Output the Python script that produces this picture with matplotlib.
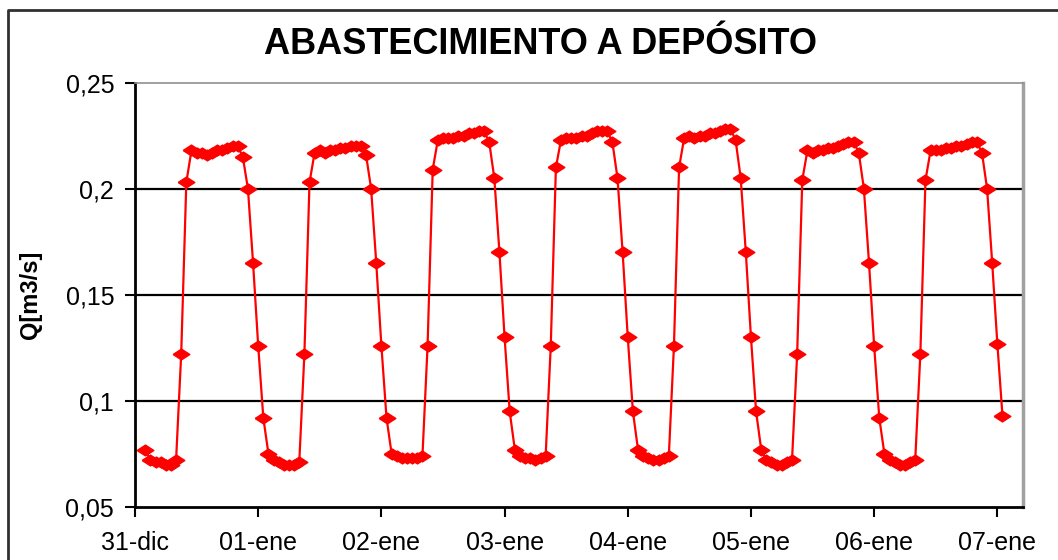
import numpy as np
import matplotlib
matplotlib.use('Agg')
import matplotlib.pyplot as plt
from matplotlib.lines import Line2D

plt.rcParams['font.family'] = ['Liberation Sans', 'DejaVu Sans']

# caudal horario (m3/s), de las 02:00 de cada dia a la 01:00 del dia siguiente
q_31dic = [0.077, 0.072, 0.071, 0.071, 0.070, 0.070, 0.072,
           0.122, 0.203,
           0.218, 0.217, 0.217, 0.216, 0.217, 0.218, 0.218, 0.219, 0.220, 0.220,
           0.215, 0.200, 0.165, 0.126, 0.092]
q_01ene = [0.075, 0.072, 0.071, 0.070, 0.070, 0.070, 0.071,
           0.122, 0.203,
           0.217, 0.218, 0.217, 0.218, 0.218, 0.219, 0.219, 0.220, 0.220, 0.220,
           0.216, 0.200, 0.165, 0.126, 0.092]
q_02ene = [0.075, 0.074, 0.073, 0.073, 0.073, 0.073, 0.074,
           0.126, 0.209,
           0.223, 0.224, 0.224, 0.224, 0.225, 0.225, 0.226, 0.226, 0.227, 0.227,
           0.222, 0.205, 0.170, 0.130, 0.095]
q_03ene = [0.077, 0.074, 0.073, 0.073, 0.072, 0.073, 0.074,
           0.126, 0.210,
           0.223, 0.224, 0.224, 0.224, 0.225, 0.225, 0.226, 0.227, 0.227, 0.227,
           0.222, 0.205, 0.170, 0.130, 0.095]
q_04ene = [0.077, 0.074, 0.073, 0.072, 0.072, 0.073, 0.074,
           0.126, 0.210,
           0.224, 0.225, 0.224, 0.225, 0.225, 0.226, 0.226, 0.227, 0.228, 0.228,
           0.223, 0.205, 0.170, 0.130, 0.095]
q_05ene = [0.077, 0.072, 0.071, 0.070, 0.070, 0.071, 0.072,
           0.122, 0.204,
           0.218, 0.217, 0.218, 0.218, 0.219, 0.219, 0.220, 0.221, 0.222, 0.222,
           0.217, 0.200, 0.165, 0.126, 0.092]
q_06ene = [0.075, 0.072, 0.071, 0.070, 0.070, 0.071, 0.072,
           0.122, 0.204,
           0.218, 0.218, 0.218, 0.219, 0.219, 0.220, 0.220, 0.221, 0.222, 0.222,
           0.217, 0.200, 0.165, 0.127, 0.093]

day_labels = ['31-dic', '01-ene', '02-ene', '03-ene', '04-ene', '05-ene', '06-ene', '07-ene']
y_ticks = [0.05, 0.10, 0.15, 0.20, 0.25]
y_labels = ['0,05', '0,1', '0,15', '0,2', '0,25']

q = np.concatenate([q_31dic, q_01ene, q_02ene, q_03ene, q_04ene, q_05ene, q_06ene])
hours = 2 + np.arange(len(q))  # horas desde 31-dic 00:00

fig = plt.figure(figsize=(10.58, 5.6), dpi=100)
ax = fig.add_axes([135 / 1058, 1 - 507 / 560, 888 / 1058, 424.5 / 560])

# marcador rombo achatado, como el de Excel
diamond = [(-1, 0), (0, 0.65), (1, 0), (0, -0.65), (-1, 0)]
ax.plot(hours, q, color='#ff0000', lw=1.6, marker=diamond, markersize=12,
        markerfacecolor='#ff0000', markeredgecolor='#ff0000', zorder=3)

ax.set_xlim(0, 173)
ax.set_ylim(0.05, 0.25)
ax.set_xticks(np.arange(len(day_labels)) * 24)
ax.set_xticklabels(day_labels)
ax.set_yticks(y_ticks)
ax.set_yticklabels(y_labels)
ax.tick_params(axis='both', direction='out', length=7, width=1.5, labelsize=18, colors='black')
ax.tick_params(axis='y', pad=8)
ax.tick_params(axis='x', pad=10)

for y in [0.10, 0.15, 0.20]:
    ax.axhline(y, color='black', lw=1.6, zorder=1)

for s in ['left', 'bottom']:
    ax.spines[s].set_linewidth(2)
    ax.spines[s].set_color('black')
ax.spines['top'].set_color('#909090')
ax.spines['top'].set_linewidth(1.2)
ax.spines['right'].set_color('#a0a0a0')
ax.spines['right'].set_linewidth(2.5)

ax.set_ylabel('Q[m3/s]', fontsize=17, fontweight='bold', labelpad=0)
ax.yaxis.set_label_coords(-0.105, 0.5)

fig.text(541 / 1058, 1 - 45 / 560, 'ABASTECIMIENTO A DEPÓSITO', ha='center', va='center',
         fontsize=26, fontweight='bold')

# borde exterior del grafico
fig.add_artist(Line2D([8 / 1058, 8 / 1058, 1.0], [0.0, 1 - 10 / 560, 1 - 10 / 560],
                      color='#303030', lw=2))

fig.savefig('out.png', dpi=100)
